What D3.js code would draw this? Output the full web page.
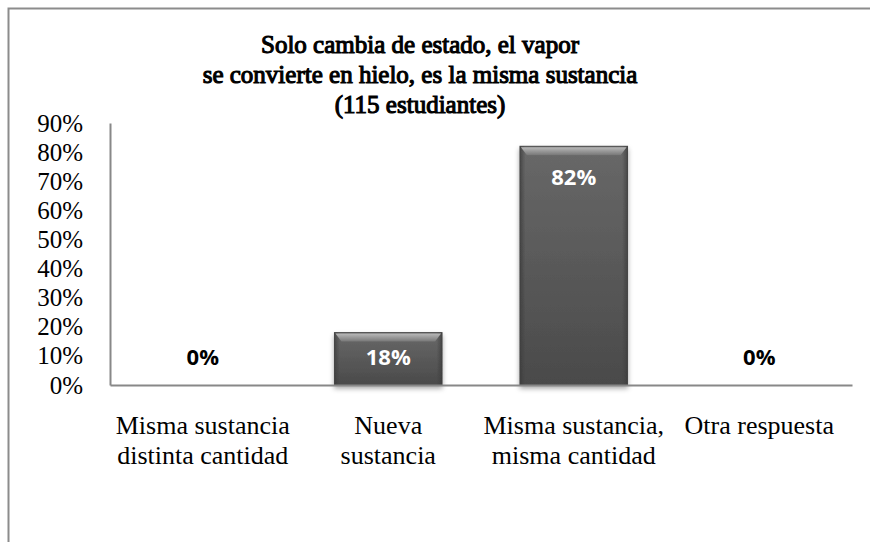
<!DOCTYPE html>
<html>
<head>
<meta charset="utf-8">
<script src="https://cdn.jsdelivr.net/npm/d3@7"></script>
<style>
  body { margin: 0; background: #fff; }
  svg { display: block; }
  .serif { font-family: "Liberation Serif", "Times New Roman", Times, serif; }
</style>
</head>
<body>
<script>
//data
var titleLines = ["Solo cambia de estado, el vapor", "se convierte en hielo, es la misma sustancia", "(115 estudiantes)"];
var categories = ["Misma sustancia\ndistinta cantidad", "Nueva\nsustancia", "Misma sustancia,\nmisma cantidad", "Otra respuesta"];
var values = [0, 18, 82, 0];
var yTicks = [0, 10, 20, 30, 40, 50, 60, 70, 80, 90];

var width = 870, height = 542;
var plot = {left: 110, right: 852, top: 123, bottom: 385};

//create svg
var svg = d3.select("body").append("svg")
            .attr("width", width)
            .attr("height", height);

var defs = svg.append("defs");

//bar body gradient
var gBody = defs.append("linearGradient").attr("id", "barBody")
            .attr("x1", 0).attr("y1", 0).attr("x2", 0).attr("y2", 1);
gBody.append("stop").attr("offset", "0%").attr("stop-color", "#686868");
gBody.append("stop").attr("offset", "100%").attr("stop-color", "#4a4a4a");

//bevel on top of bar
var gTop = defs.append("linearGradient").attr("id", "barTop")
            .attr("x1", 0).attr("y1", 0).attr("x2", 0).attr("y2", 1);
gTop.append("stop").attr("offset", "0%").attr("stop-color", "#b8b8b8");
gTop.append("stop").attr("offset", "100%").attr("stop-color", "#777777");

//side shading
var gSide = defs.append("linearGradient").attr("id", "barSide")
            .attr("x1", 0).attr("y1", 0).attr("x2", 1).attr("y2", 0);
gSide.append("stop").attr("offset", "0%").attr("stop-color", "#3a3a3a").attr("stop-opacity", 0.7);
gSide.append("stop").attr("offset", "5%").attr("stop-color", "#3a3a3a").attr("stop-opacity", 0);
gSide.append("stop").attr("offset", "95%").attr("stop-color", "#3a3a3a").attr("stop-opacity", 0);
gSide.append("stop").attr("offset", "100%").attr("stop-color", "#3a3a3a").attr("stop-opacity", 0.7);

var shadow = defs.append("filter").attr("id", "shadow")
            .attr("x", "-20%").attr("y", "-10%").attr("width", "140%").attr("height", "130%");
shadow.append("feDropShadow").attr("dx", 0).attr("dy", 3).attr("stdDeviation", 2.5)
      .attr("flood-color", "#000").attr("flood-opacity", 0.35);

//chart border
svg.append("rect")
    .attr("x", 8.5).attr("y", 8.5)
    .attr("width", 900).attr("height", 600)
    .attr("fill", "#fff")
    .attr("stroke", "#8c8c8c")
    .attr("stroke-width", 2);

//title (serif, thickened with a stroke)
svg.append("g").selectAll("text")
    .data(titleLines)
    .enter().append("text")
        .attr("class", "serif")
        .attr("x", 420)
        .attr("y", function(d, i){ return 53 + i * 30; })
        .attr("text-anchor", "middle")
        .attr("font-size", 25)
        .attr("fill", "#000")
        .attr("stroke", "#000")
        .attr("stroke-width", 1.1)
        .text(function(d){ return d; });

//scales
var x = d3.scaleBand()
            .domain(categories)
            .range([plot.left, plot.right])
            .paddingInner(0.42)
            .paddingOuter(0.21);

var y = d3.scaleLinear()
            .domain([0, 90])
            .range([plot.bottom, plot.top]);

//bars
var bars = svg.selectAll("g.bar")
            .data(values)
            .enter().append("g")
                .attr("class", "bar")
                .attr("filter", "url(#shadow)");

bars.each(function(d, i){
    if (d <= 0) return;
    var g = d3.select(this);
    var bx = x(categories[i]), bw = x.bandwidth();
    var by = y(d), bh = y(0) - y(d);
    g.append("rect")
        .attr("x", bx).attr("y", by)
        .attr("width", bw).attr("height", bh)
        .attr("fill", "url(#barBody)")
        .attr("stroke", "#4d4d4d")
        .attr("stroke-width", 1);
    g.append("rect")
        .attr("x", bx).attr("y", by)
        .attr("width", bw).attr("height", bh)
        .attr("fill", "url(#barSide)");
    //bevelled top edge
    g.append("path")
        .attr("d", "M" + (bx + 1) + "," + (by + 1) + "H" + (bx + bw - 1) +
                   "L" + (bx + bw - 7) + "," + (by + 9) + "H" + (bx + 7) + "Z")
        .attr("fill", "url(#barTop)");
});

//axes
var yAxis = svg.append("g")
            .attr("transform", "translate(" + plot.left + ",0)")
            .call(d3.axisLeft(y)
                    .tickValues(yTicks)
                    .tickFormat(function(d){ return d + "%"; })
                    .tickSize(0)
                    .tickPadding(27));

var xAxis = svg.append("g")
            .attr("transform", "translate(0," + plot.bottom + ")")
            .call(d3.axisBottom(x)
                    .tickSize(0)
                    .tickFormat(""));

svg.selectAll(".domain")
    .attr("stroke", "#888888")
    .attr("stroke-width", 2);

yAxis.attr("font-family", null).attr("font-size", null);
yAxis.selectAll("text")
    .attr("class", "serif")
    .attr("fill", "#000")
    .attr("font-size", 25);

xAxis.attr("font-family", null).attr("font-size", null);
xAxis.selectAll(".tick text").remove();
xAxis.selectAll(".tick").append("text")
    .attr("class", "serif")
    .attr("text-anchor", "middle")
    .attr("fill", "#000")
    .attr("font-size", 26)
    .each(function(d){
        var t = d3.select(this);
        d.split("\n").forEach(function(line, i){
            t.append("tspan")
                .attr("x", 0)
                .attr("y", 49 + i * 30)
                .text(line);
        });
    });

//data labels
svg.selectAll("text.label")
    .data(values)
    .enter().append("text")
        .attr("class", "label")
        .attr("x", function(d, i){ return x(categories[i]) + x.bandwidth() / 2; })
        .attr("y", function(d){ return Math.min(y(d) + 31, y(0) - 28); })
        .attr("dy", "0.35em")
        .attr("text-anchor", "middle")
        .attr("fill", function(d){ return d > 0 ? "#ffffff" : "#000000"; })
        .style("font-family", "'Open Sans', Lato, sans-serif")
        .style("font-weight", "bold")
        .style("font-size", "22px")
        .text(function(d){ return d + "%"; });
</script>
</body>
</html>
